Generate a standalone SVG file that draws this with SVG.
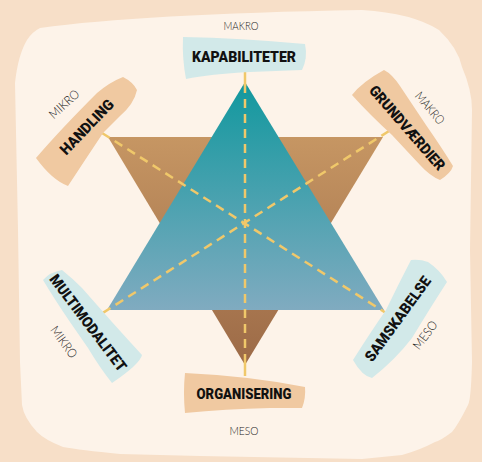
<svg xmlns="http://www.w3.org/2000/svg" width="482" height="462" viewBox="0 0 482 462">
<defs>
<linearGradient id="teal" x1="0" y1="82" x2="0" y2="310" gradientUnits="userSpaceOnUse">
<stop offset="0" stop-color="#11989e"/>
<stop offset="1" stop-color="#80abc0"/>
</linearGradient>
<linearGradient id="brown" x1="0" y1="137" x2="0" y2="365" gradientUnits="userSpaceOnUse">
<stop offset="0" stop-color="#c69663"/>
<stop offset="1" stop-color="#9c6a47"/>
</linearGradient>
<style>
.blue{fill:#d2e9e9}
.peach{fill:#f0c9a1}
.lbl{font-family:Roboto,"Liberation Sans",sans-serif;font-weight:900;font-size:15px;fill:#111;text-anchor:middle;dominant-baseline:central}
.lvl{font-family:Lato,"Liberation Sans",sans-serif;font-weight:300;font-size:12.5px;fill:#222;text-anchor:middle;dominant-baseline:central}
.dash{stroke:#f0c86a;stroke-width:2.5;stroke-dasharray:9 6;fill:none}
.stick{stroke:#f0c86a;stroke-width:2.5;fill:none}
</style>
</defs>
<rect x="0" y="0" width="482" height="462" fill="#f7dfc8"/>
<path d="M40,28 Q140,14 362,10 Q412,13 439,30 Q458,48 462,67 Q472,90 472,110 L470,250 L472,362 Q471,400 468,405 Q458,425 452,432 Q440,441 435,442 Q420,450 402,455 L362,459 L200,456 L120,454 Q80,450 63,447 Q45,440 37,432 Q24,418 22,405 L20,362 L18,230 L15,83 Q18,55 27,40 Q32,32 40,28 Z" fill="#fdf3e9"/>
<g id="star">
<polygon points="108,137 383,137 245,365" fill="url(#brown)"/>
<polygon points="245,82 384,310 107,310" fill="url(#teal)"/>
</g>
<g id="connectors">
<line class="dash" x1="245" y1="84" x2="245" y2="364"/>
<line class="stick" x1="245" y1="72" x2="245" y2="86"/>
<line class="stick" x1="245" y1="362" x2="245" y2="376"/>
<line class="dash" x1="102" y1="133" x2="386" y2="313"/>
<line class="dash" x1="389" y1="131" x2="98" y2="316"/>
</g>
<g id="kapabiliteter">
<path class="blue" d="M183,37 Q240,38 305,44 Q308,58 302,70 L250,72 Q210,74 186,79 Q182,58 183,37 Z"/>
<text class="lbl" x="244" y="57" textLength="104" lengthAdjust="spacingAndGlyphs">KAPABILITETER</text>
<text class="lvl" x="241" y="25" textLength="35" lengthAdjust="spacingAndGlyphs">MAKRO</text>
</g>
<g id="grundvaerdier">
<path class="peach" d="M352,95 Q362,82 384,70 Q392,74 400,86 L426,125 Q442,148 453,166 Q451,173 440,180 Q430,176 420,165 L392,135 Q370,115 352,95 Z"/>
<text class="lbl" transform="translate(407,128) rotate(49)" textLength="107" lengthAdjust="spacingAndGlyphs">GRUNDVÆRDIER</text>
<text class="lvl" transform="translate(430,108) rotate(50)" textLength="38" lengthAdjust="spacingAndGlyphs">MAKRO</text>
</g>
<g id="samskabelse">
<path class="blue" d="M353,360 Q372,330 386,310 Q398,285 411,260 Q420,259 428,262 Q440,270 447,282 Q432,305 412,338 Q395,360 372,378 Q362,376 353,360 Z"/>
<text class="lbl" transform="translate(398,319) rotate(-54)" textLength="101" lengthAdjust="spacingAndGlyphs">SAMSKABELSE</text>
<text class="lvl" transform="translate(425,335) rotate(-53)" textLength="32" lengthAdjust="spacingAndGlyphs">MESO</text>
</g>
<g id="organisering">
<path class="peach" d="M185,373 Q250,376 305,387 Q306,398 302,408 L270,408 Q225,409 185,413 Q183,392 185,373 Z"/>
<text class="lbl" x="244" y="394" textLength="95" lengthAdjust="spacingAndGlyphs">ORGANISERING</text>
<text class="lvl" x="244" y="430" textLength="29" lengthAdjust="spacingAndGlyphs">MESO</text>
</g>
<g id="multimodalitet">
<path class="blue" d="M43,280 Q50,272 62,270 Q72,278 82,288 L112,322 Q130,342 142,355 Q140,364 112,383 Q100,368 88,348 L70,322 Q55,300 43,280 Z"/>
<text class="lbl" transform="translate(88,323) rotate(53)" textLength="117" lengthAdjust="spacingAndGlyphs">MULTIMODALITET</text>
<text class="lvl" transform="translate(64,342) rotate(54)" textLength="36" lengthAdjust="spacingAndGlyphs">MIKRO</text>
</g>
<g id="handling">
<path class="peach" d="M36,158 Q60,130 97,93 Q110,82 123,77 Q133,82 137,90 Q134,104 120,116 L103,133 Q85,160 68,186 Q52,180 36,158 Z"/>
<text class="lbl" transform="translate(87,127) rotate(-46)" textLength="70" lengthAdjust="spacingAndGlyphs">HANDLING</text>
<text class="lvl" transform="translate(64,104) rotate(-42)" textLength="36" lengthAdjust="spacingAndGlyphs">MIKRO</text>
</g>
</svg>
